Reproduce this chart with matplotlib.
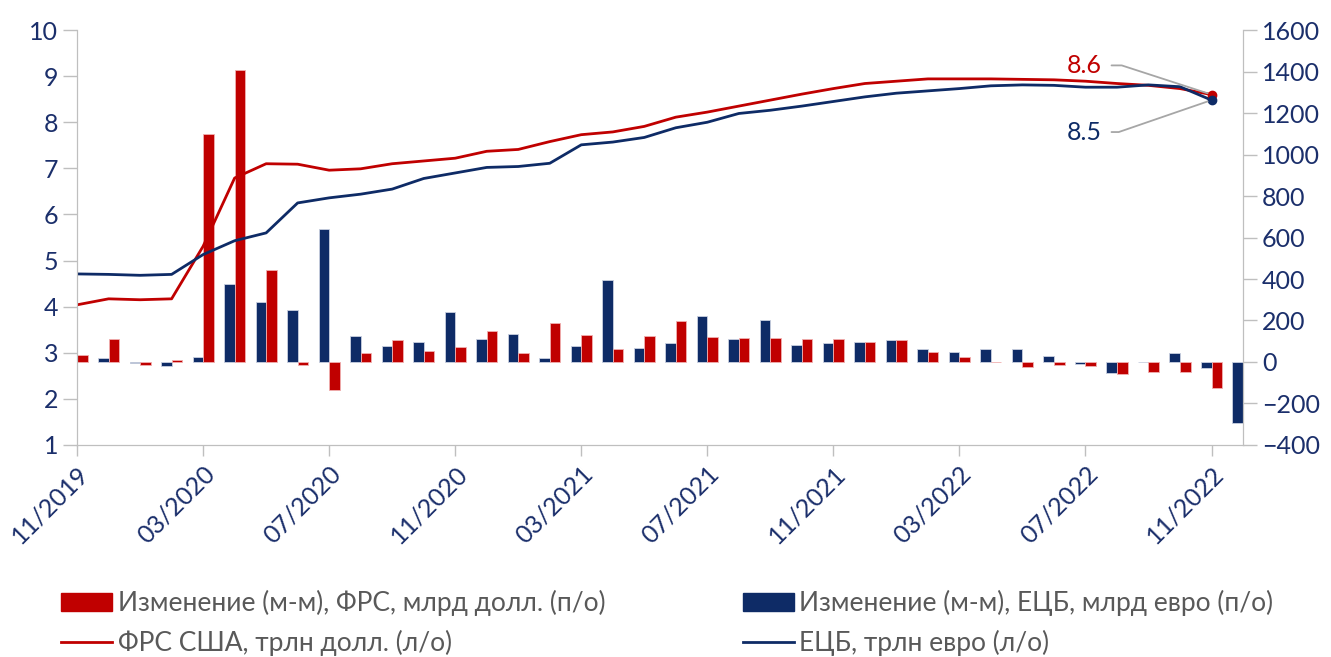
import numpy as np
import pandas as pd
import matplotlib
matplotlib.use("Agg")
import matplotlib.pyplot as plt
from matplotlib.patches import Patch
from matplotlib.lines import Line2D

plt.rcParams['font.family'] = ['Lato', 'Noto Sans', 'DejaVu Sans']

# monthly data, 11/2019 .. 12/2022
months = pd.date_range("2019-11-01", periods=38, freq="MS")

fed_chg = [32, 113, -13, 8, 1097, 1407, 443, -14, -133, 42, 105, 53, 71, 148,
           42, 186, 132, 61, 124, 199, 119, 114, 114, 109, 109, 95, 104, 50,
           23, 2, -26, -13, -21, -58, -50, -50, -123, np.nan]
ecb_chg = [20, 18, -5, -21, 22, 374, 288, 251, 643, 125, 79, 95, 243, 111,
           133, 19, 79, 397, 66, 92, 220, 111, 204, 84, 93, 98, 106, 61,
           47, 61, 61, 27, -10, -53, -2, 42, -27, -296]

fed_tn = [4.04, 4.17, 4.15, 4.17, 5.31, 6.79, 7.10, 7.09, 6.96, 6.99, 7.10,
          7.16, 7.22, 7.37, 7.41, 7.58, 7.73, 7.79, 7.91, 8.11, 8.22, 8.35,
          8.48, 8.61, 8.73, 8.84, 8.89, 8.94, 8.94, 8.94, 8.93, 8.92, 8.89,
          8.84, 8.80, 8.73, 8.60]
ecb_tn = [4.71, 4.70, 4.68, 4.70, 5.13, 5.43, 5.60, 6.25, 6.36, 6.44, 6.55,
          6.78, 6.90, 7.02, 7.04, 7.11, 7.51, 7.57, 7.67, 7.88, 8.00, 8.19,
          8.26, 8.35, 8.45, 8.55, 8.63, 8.68, 8.73, 8.79, 8.81, 8.80, 8.76,
          8.76, 8.81, 8.77, 8.48]

RED = "#C00000"
NAVY = "#0E2B66"
TXT = "#1B2F6B"
GREY = "#BFBFBF"

x = np.arange(len(months))
xl = np.arange(len(fed_tn))

fig = plt.figure(figsize=(13.31, 6.57), dpi=100)
ax = fig.add_axes([0.0579, 0.3227, 0.8760, 0.6316])
ax2 = ax.twinx()

# bars on right axis
w = 0.335
ax2.bar(x, ecb_chg, width=-w, align="edge", color=NAVY, edgecolor="#C9D0E0", linewidth=0.6, zorder=2)
ax2.bar(x, fed_chg, width=w, align="edge", color=RED, edgecolor="#F0B0B0", linewidth=0.6, zorder=2)
ax2.set_ylim(-400, 1600)
ax2.set_yticks(range(-400, 1601, 200))

# lines on left axis (drawn above bars)
ax.set_zorder(ax2.get_zorder() + 1)
ax.patch.set_visible(False)
ax.plot(xl, fed_tn, color=RED, lw=2)
ax.plot(xl, ecb_tn, color=NAVY, lw=2)
ax.plot(xl[-1], fed_tn[-1], "o", color=RED, ms=6)
ax.plot(xl[-1], ecb_tn[-1], "o", color=NAVY, ms=6)
ax.set_ylim(1, 10)
ax.set_yticks(range(1, 11))
ax.set_xlim(0, 37)

ax.set_xticks(x[:-1:4])
ax.set_xticklabels(months[:-1:4].strftime("%m/%Y"), rotation=45, ha="right",
                   rotation_mode="anchor", fontsize=17, color=TXT)

for a in (ax, ax2):
    for s in a.spines.values():
        s.set_color(GREY)
    a.spines["top"].set_visible(False)
    a.tick_params(colors=GREY, labelcolor=TXT, labelsize=18, length=10, width=1)
ax.tick_params(axis="x", length=8, pad=4)

# end labels with leader lines
ax.annotate(f"{fed_tn[-1]:.1f}", xy=(xl[-1], fed_tn[-1]), xytext=(-79, 21),
            textcoords="offset points", color=RED, fontsize=18, ha="right", va="center",
            arrowprops=dict(arrowstyle="-", color="#A6A6A6", lw=1.3, relpos=(1, 0.5),
                            shrinkA=5, shrinkB=3,
                            connectionstyle="angle,angleA=0,angleB=-18,rad=0"))
ax.annotate(f"{ecb_tn[-1]:.1f}", xy=(xl[-1], ecb_tn[-1]), xytext=(-79, -23),
            textcoords="offset points", color=NAVY, fontsize=18, ha="right", va="center",
            arrowprops=dict(arrowstyle="-", color="#A6A6A6", lw=1.3, relpos=(1, 0.5),
                            shrinkA=5, shrinkB=3,
                            connectionstyle="angle,angleA=0,angleB=19,rad=0"))

handles = [
    Patch(color=RED, label="Изменение (м-м), ФРС, млрд долл. (п/о)"),
    Line2D([], [], color=RED, lw=2, label="ФРС США, трлн долл. (л/о)"),
    Patch(color=NAVY, label="Изменение (м-м), ЕЦБ, млрд евро (п/о)"),
    Line2D([], [], color=NAVY, lw=2, label="ЕЦБ, трлн евро (л/о)"),
]
fig.legend(handles=handles, ncol=2, loc="lower left", bbox_to_anchor=(0.028, -0.035),
           frameon=False, fontsize=19, handlelength=1.95, handleheight=0.7,
           handletextpad=0.2, columnspacing=5.2, labelspacing=0.52,
           labelcolor="#595959")

fig.savefig("out.png", dpi=100)
